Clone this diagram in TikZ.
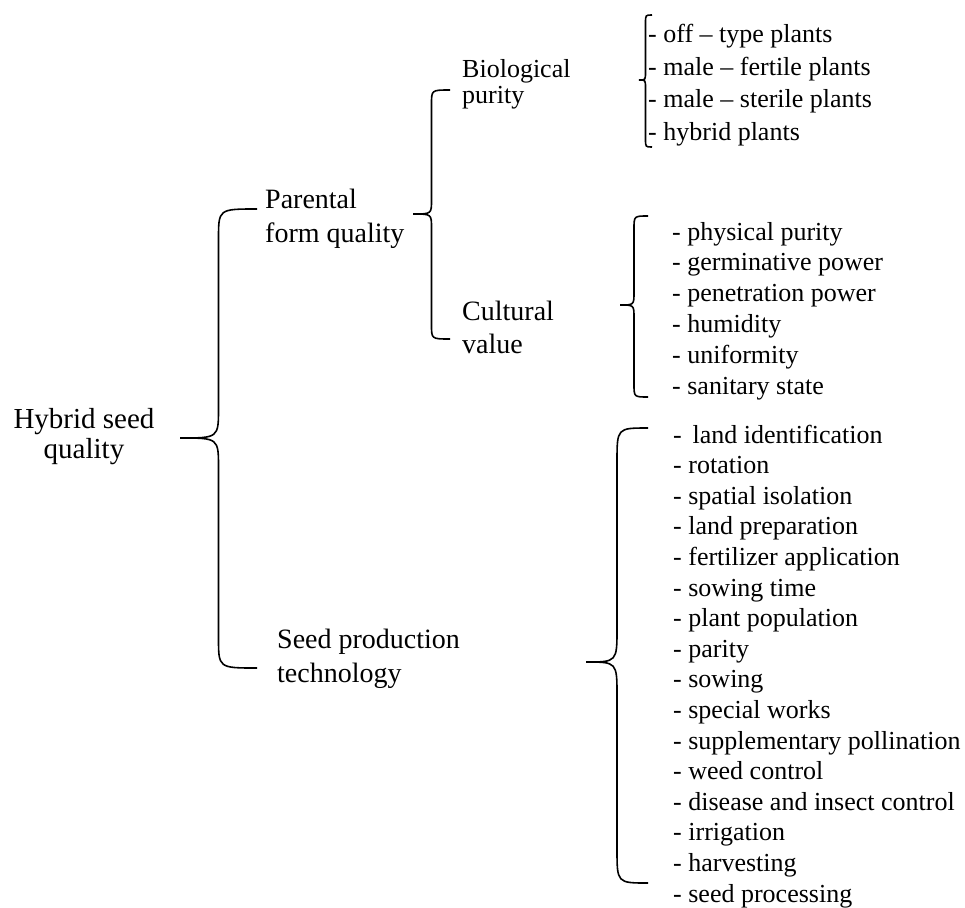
\documentclass[tikz,border=0pt]{standalone}
\usepackage{fontspec}
\setmainfont{Liberation Serif}
\usetikzlibrary{calc}

\tikzset{
  heading/.style={inner sep=0pt, anchor=base west, align=left, font=\fontsize{28}{#1}\selectfont},
  heading/.default=34,
  items/.style={inner sep=0pt, anchor=base west, align=left, font=\fontsize{26}{#1}\selectfont},
  items/.default=30.6,
  bracket/.style={line width=1.6pt}
}

% curly brace: top end, tip, bottom end, bend
\newcommand{\curly}[4]{%
  \draw[bracket] let \p1=(#1), \p2=(#2), \p3=(#3) in
    (\p1) .. controls (\x1/2+\x2/2,\y1) .. (\x1/2+\x2/2,\y1-#4)
    -- (\x1/2+\x2/2,\y2+#4) .. controls (\x1/2+\x2/2,\y2) .. (\p2)
    .. controls (\x1/2+\x2/2,\y2) .. (\x1/2+\x2/2,\y2-#4)
    -- (\x1/2+\x2/2,\y3+#4) .. controls (\x1/2+\x2/2,\y3) .. (\p3);}

\begin{document}
\begin{tikzpicture}[x=1pt, y=-1pt]
  \useasboundingbox (0,0) rectangle (965,907);

  % Hybrid seed quality (nodes sit on the baseline of their last line)
  \node[inner sep=0pt, anchor=base, align=center, font=\fontsize{29}{30}\selectfont] (hsq) at (84,458) {Hybrid seed\\quality};

  % Parental form quality
  \node[heading] (pfq) at (265,242) {Parental\\form quality};
  \node[heading, font=\fontsize{26}{26}\selectfont] (bio) at (462,103) {Biological\\purity};
  \node[heading=33] (cult) at (462,353) {Cultural\\value};

  \node[items=32.5] (bio_list) at (648,140) {- off – type plants\\- male – fertile plants\\- male – sterile plants\\- hybrid plants};
  \node[items=30.8] (cult_list) at (672,394) {- physical purity\\- germinative power\\- penetration power\\- humidity\\- uniformity\\- sanitary state};

  % Seed production technology
  \node[heading] (spt) at (277,682) {Seed production\\technology};
  \node[items] (spt_list) at (673,902) {- \,land identification\\- rotation\\- spatial isolation\\- land preparation\\- fertilizer application\\- sowing time\\- plant population\\- parity\\- sowing\\- special works\\- supplementary pollination\\- weed control\\- disease and insect control\\- irrigation\\- harvesting\\- seed processing};

  % Braces
  \coordinate (hsq_top) at (257,209);
  \coordinate (hsq_tip) at (180,438);
  \coordinate (hsq_bot) at (257,668);
  \curly{hsq_top}{hsq_tip}{hsq_bot}{30pt}

  \coordinate (pfq_top) at (450,90);
  \coordinate (pfq_tip) at (413,214);
  \coordinate (pfq_bot) at (450,339);
  \curly{pfq_top}{pfq_tip}{pfq_bot}{14pt}

  \coordinate (bio_top) at (652,15);
  \coordinate (bio_tip) at (639,80);
  \coordinate (bio_bot) at (652,147);
  \curly{bio_top}{bio_tip}{bio_bot}{8pt}

  \coordinate (cult_top) at (648,216);
  \coordinate (cult_tip) at (620,305);
  \coordinate (cult_bot) at (648,397);
  \curly{cult_top}{cult_tip}{cult_bot}{13pt}

  \coordinate (spt_top) at (648,428);
  \coordinate (spt_tip) at (586,662);
  \coordinate (spt_bot) at (648,883);
  \curly{spt_top}{spt_tip}{spt_bot}{34pt}
\end{tikzpicture}
\end{document}
